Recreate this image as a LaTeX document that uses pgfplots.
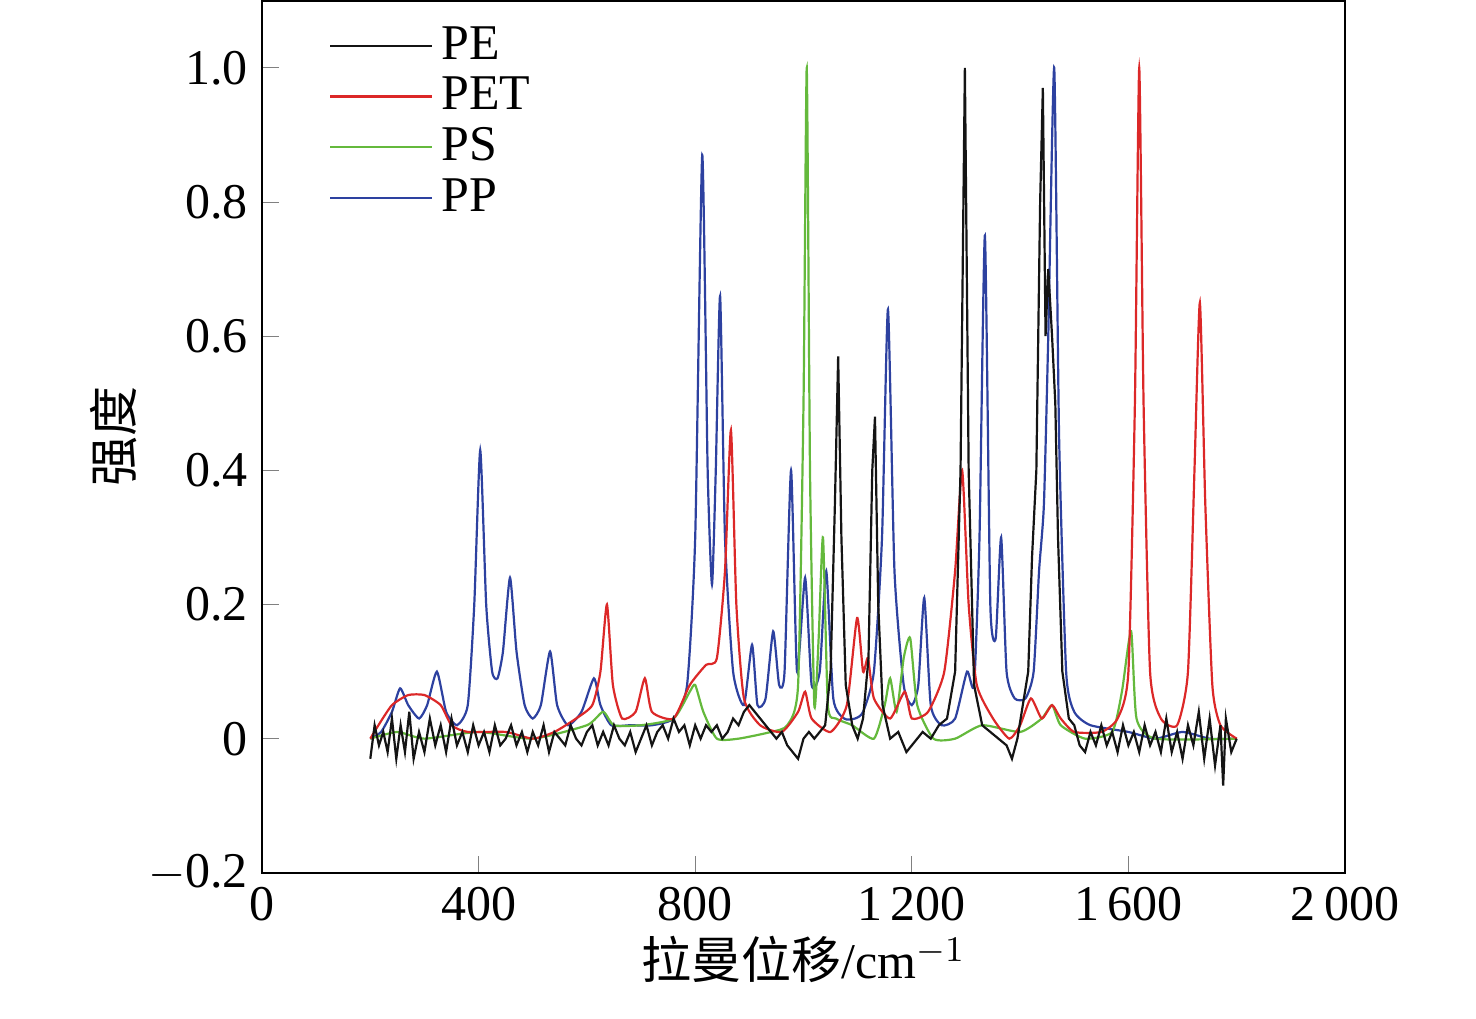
\documentclass[border=0pt]{standalone}
\usepackage{pgfplots}
\pgfplotsset{compat=1.18}
\usepackage{fontspec}
\setmainfont{Liberation Serif}
\newfontfamily\cjk{Noto Sans CJK SC}
\definecolor{cPE}{RGB}{20,20,20}
\definecolor{cPET}{RGB}{220,40,40}
\definecolor{cPS}{RGB}{100,185,60}
\definecolor{cPP}{RGB}{45,65,160}
\begin{document}
\begin{tikzpicture}
\begin{axis}[
 name=ax,
 scale only axis, width=270.75pt, height=218pt,
 xmin=0, xmax=2000, ymin=-0.2, ymax=1.1,
 xtick={0,400,800,1200,1600,2000},
 xticklabels={0,400,800,1\,200,1\,600,2\,000},
 ytick={-0.2,0,0.2,0.4,0.6,0.8,1.0},
 yticklabels={$-$0.2,0,0.2,0.4,0.6,0.8,1.0},
 tick align=inside, xtick pos=bottom, ytick pos=left,
 minor tick num=0,
 ticklabel style={font=\fontsize{12.5}{14}\selectfont},
 /pgf/number format/assume math mode=true,
 xlabel={{\cjk 拉曼位移}/cm$^{-1}$},
 ylabel={\cjk 强度},
 label style={font=\fontsize{12.5}{14}\selectfont},
 ylabel shift=-4pt, xlabel shift=-3pt,
 legend style={draw=none, fill=none, at={(0.05,0.99)}, anchor=north west, font=\fontsize{12.5}{14}\selectfont, row sep=-1pt},
 legend cell align=left,
 legend image code/.code={\draw[#1] (0cm,0cm) -- (0.9cm,0cm);},
 every axis plot/.append style={line width=0.55pt},
]
\addlegendimage{cPE}\addlegendentry{PE}
\addlegendimage{cPET}\addlegendentry{PET}
\addlegendimage{cPS}\addlegendentry{PS}
\addlegendimage{cPP}\addlegendentry{PP}
\addplot[cPP, forget plot, smooth, tension=0.35] coordinates {(200,0) (220,0.01) (240,0.04) (255,0.075) (270,0.05) (290,0.03) (305,0.05) (323,0.10) (340,0.04) (360,0.02) (380,0.05) (392,0.2) (403,0.43) (414,0.2) (425,0.1) (435,0.09) (445,0.13) (458,0.24) (470,0.13) (485,0.05) (500,0.03) (515,0.05) (532,0.13) (545,0.05) (565,0.02) (590,0.04) (613,0.09) (625,0.05) (645,0.02) (680,0.02) (720,0.02) (760,0.03) (785,0.08) (800,0.3) (813,0.87) (823,0.4) (831,0.23) (838,0.4) (846,0.66) (855,0.3) (870,0.1) (890,0.05) (905,0.14) (915,0.05) (930,0.06) (944,0.16) (955,0.08) (965,0.1) (977,0.40) (988,0.1) (1003,0.24) (1015,0.08) (1030,0.1) (1042,0.25) (1055,0.06) (1075,0.03) (1095,0.03) (1110,0.04) (1130,0.1) (1145,0.3) (1156,0.64) (1168,0.25) (1185,0.08) (1200,0.05) (1212,0.08) (1223,0.21) (1235,0.05) (1255,0.02) (1280,0.03) (1302,0.10) (1315,0.08) (1325,0.3) (1335,0.75) (1345,0.2) (1355,0.15) (1365,0.30) (1375,0.1) (1390,0.06) (1410,0.06) (1425,0.1) (1435,0.25) (1444,0.35) (1452,0.6) (1463,1.0) (1472,0.45) (1485,0.1) (1500,0.04) (1530,0.02) (1600,0.01) (1650,0) (1700,0.01) (1750,0) (1800,0)};
\addplot[cPS, forget plot, smooth, tension=0.35] coordinates {(200,0) (250,0.01) (300,0.0) (400,0.01) (500,0.0) (600,0.02) (630,0.04) (650,0.02) (700,0.02) (760,0.03) (790,0.07) (800,0.08) (815,0.04) (840,0.0) (880,0.0) (940,0.01) (970,0.02) (990,0.08) (1000,0.5) (1006,1.0) (1012,0.4) (1020,0.05) (1028,0.15) (1036,0.30) (1045,0.05) (1060,0.03) (1090,0.02) (1130,0.0) (1150,0.05) (1160,0.09) (1172,0.04) (1185,0.12) (1197,0.15) (1210,0.05) (1240,0.0) (1280,0.0) (1330,0.02) (1400,0.01) (1440,0.03) (1459,0.05) (1475,0.02) (1520,0.0) (1570,0.01) (1588,0.07) (1605,0.16) (1615,0.03) (1650,0) (1800,0)};
\addplot[cPET, forget plot, smooth, tension=0.35] coordinates {(200,0) (215,0.02) (240,0.05) (270,0.065) (300,0.065) (330,0.05) (350,0.02) (380,0.01) (450,0.01) (500,0.0) (540,0.01) (580,0.03) (610,0.05) (625,0.1) (637,0.20) (648,0.08) (665,0.03) (690,0.04) (707,0.09) (720,0.04) (760,0.03) (790,0.08) (820,0.11) (840,0.12) (855,0.25) (866,0.46) (876,0.2) (890,0.06) (920,0.02) (960,0.01) (990,0.04) (1003,0.07) (1015,0.03) (1050,0.01) (1080,0.05) (1099,0.18) (1110,0.1) (1119,0.12) (1130,0.06) (1160,0.03) (1187,0.07) (1200,0.03) (1230,0.04) (1260,0.1) (1280,0.25) (1293,0.40) (1305,0.2) (1320,0.08) (1350,0.03) (1380,0.0) (1400,0.02) (1420,0.06) (1440,0.03) (1459,0.05) (1475,0.03) (1500,0.01) (1550,0.01) (1580,0.03) (1600,0.1) (1612,0.5) (1620,1.0) (1628,0.5) (1640,0.1) (1660,0.03) (1690,0.02) (1710,0.1) (1722,0.4) (1732,0.65) (1742,0.35) (1755,0.08) (1770,0.02) (1800,0)};
\addplot[cPE, forget plot] coordinates {(200,-0.03) (208,0.02) (216,-0.01) (224,0.01) (232,-0.02) (240,0.03) (248,-0.03) (256,0.02) (264,-0.02) (272,0.04) (280,-0.03) (290,0.01) (300,-0.02) (310,0.03) (320,-0.01) (330,0.02) (340,-0.02) (350,0.03) (360,-0.01) (370,0.01) (380,-0.02) (390,0.02) (400,-0.01) (410,0.01) (420,-0.02) (430,0.02) (440,-0.01) (450,0.0) (460,0.02) (470,-0.01) (480,0.01) (490,-0.02) (500,0.01) (510,-0.01) (520,0.02) (530,-0.02) (540,0.01) (550,0.0) (560,-0.01) (570,0.02) (580,0.0) (590,-0.01) (600,0.01) (610,0.02) (620,-0.01) (630,0.01) (640,-0.01) (650,0.02) (660,0.0) (670,-0.01) (680,0.01) (690,-0.02) (700,0.0) (710,0.02) (720,-0.01) (730,0.01) (740,0.02) (750,0.0) (760,0.03) (770,0.01) (780,0.02) (790,-0.01) (800,0.02) (810,0.0) (820,0.02) (830,0.01) (840,0.02) (850,0.0) (860,0.01) (870,0.03) (880,0.02) (890,0.04) (900,0.05) (910,0.04) (920,0.03) (930,0.02) (940,0.01) (950,0.0) (960,0.01) (970,-0.01) (980,-0.02) (990,-0.03) (1000,0.0) (1010,0.01) (1020,0.0) (1030,0.01) (1040,0.02) (1050,0.1) (1058,0.35) (1064,0.57) (1070,0.3) (1078,0.08) (1090,0.02) (1100,0.0) (1110,0.03) (1120,0.12) (1127,0.4) (1132,0.48) (1138,0.2) (1146,0.05) (1160,0.0) (1175,0.01) (1190,-0.02) (1200,-0.01) (1210,0.0) (1220,0.01) (1235,0.0) (1250,0.02) (1265,0.03) (1280,0.1) (1290,0.4) (1298,1.0) (1305,0.4) (1315,0.08) (1330,0.02) (1345,0.01) (1360,0.0) (1375,-0.01) (1385,-0.03) (1395,0.0) (1405,0.05) (1415,0.1) (1422,0.27) (1430,0.4) (1437,0.8) (1442,0.97) (1447,0.6) (1452,0.7) (1459,0.60) (1465,0.5) (1470,0.3) (1478,0.1) (1490,0.03) (1500,0.02) (1510,-0.01) (1520,-0.02) (1530,0.01) (1540,-0.01) (1550,0.02) (1560,-0.01) (1570,0.01) (1580,-0.02) (1590,0.02) (1600,-0.01) (1610,0.01) (1620,-0.02) (1630,0.02) (1640,-0.01) (1650,0.01) (1660,-0.02) (1670,0.03) (1680,-0.02) (1690,0.01) (1700,-0.03) (1710,0.02) (1720,-0.01) (1730,0.04) (1740,-0.03) (1750,0.03) (1760,-0.04) (1770,0.02) (1775,-0.07) (1780,0.03) (1790,-0.02) (1800,0)};
\end{axis}
\path (ax.south west) ++(-65.5pt,-36.5pt) coordinate (bl);
\path (ax.north east) ++(32.75pt,0pt) coordinate (tr);
\useasboundingbox (bl) rectangle (tr);
\end{tikzpicture}
\end{document}
